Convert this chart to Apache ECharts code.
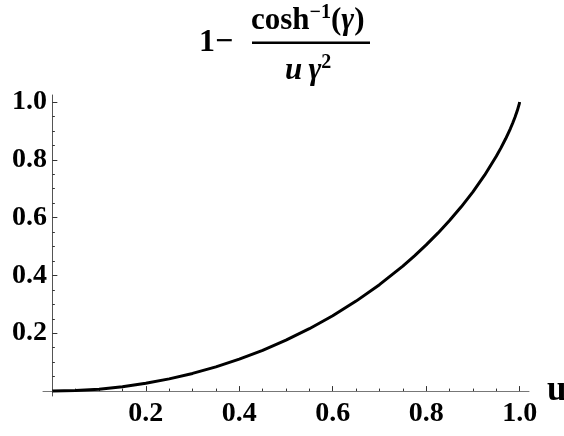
<!DOCTYPE html>
<html>
<head>
<meta charset="utf-8">
<script src="https://cdn.jsdelivr.net/npm/echarts@6/dist/echarts.min.js"></script>
<style>
html,body{margin:0;padding:0;background:#fff;}
#chart{width:564px;height:436px;}
</style>
</head>
<body>
<div id="chart"></div>
<script>
// values
const uValues = [0, 0.05, 0.1, 0.15, 0.2, 0.25, 0.3, 0.35, 0.4, 0.45, 0.5, 0.55, 0.6, 0.65, 0.7, 0.75, 0.775, 0.8, 0.825, 0.85, 0.875, 0.9, 0.925, 0.95, 0.96, 0.97, 0.98, 0.985, 0.99, 0.995, 0.999, 1.0];
const fValues = [0, 0.0017, 0.0067, 0.0151, 0.0269, 0.0422, 0.0611, 0.0838, 0.1103, 0.1410, 0.1760, 0.2158, 0.2606, 0.3112, 0.3681, 0.4324, 0.4678, 0.5056, 0.5462, 0.5899, 0.6373, 0.6892, 0.7467, 0.8120, 0.8411, 0.8725, 0.9072, 0.9262, 0.9468, 0.9700, 0.9924, 1.0];
const majorTicks = [0.2, 0.4, 0.6, 0.8, 1.0];
const minorTicks = [0.05, 0.1, 0.15, 0.25, 0.3, 0.35, 0.45, 0.5, 0.55, 0.65, 0.7, 0.75, 0.85, 0.9, 0.95];
const xName = 'u';

const FONT = '"Liberation Serif", "Times New Roman", serif';
const data = uValues.map((u, i) => [u, fValues[i]]);

const labelStyle = {fontFamily: FONT, fontWeight: 'bold', fontSize: 28, color: '#000'};
const LH = 33;
const main = {fontFamily: FONT, fontWeight: 'bold', fontSize: 31, color: '#000', verticalAlign: 'bottom', lineHeight: LH};
const ital = Object.assign({}, main, {fontStyle: 'italic'});
const sup = {fontFamily: FONT, fontWeight: 'bold', fontSize: 20, color: '#000', verticalAlign: 'top', lineHeight: LH};

const chart = echarts.init(document.getElementById('chart'), null, {renderer: 'canvas'});
chart.setOption({
  animation: false,
  backgroundColor: '#fff',
  title: [
    {text: '1\u2212', left: 199, top: 27, padding: 0,
     textStyle: {fontFamily: FONT, fontWeight: 'bold', fontSize: 32, color: '#000'}},
    {text: '{b|cosh}{s|\u22121}{b|(}{i|\u03b3}{b|)}', left: 251, top: 3, padding: 0,
     textStyle: {rich: {b: main, i: ital, s: sup}}},
    {text: '{i|u\u2009\u03b3}{s|2}', left: 285, top: 53, padding: 0,
     textStyle: {rich: {i: ital, s: sup}}}
  ],
  graphic: [
    {type: 'rect', shape: {x: 252, y: 41.5, width: 118, height: 2.5}, style: {fill: '#000'}, silent: true}
  ],
  grid: {left: 43, right: 35, top: 95, bottom: 40, containLabel: false, outerBoundsMode: 'none'},
  xAxis: [
    {type: 'value', min: -0.02, max: 1.02, position: 'bottom',
     name: xName, nameLocation: 'end', nameGap: 18,
     nameTextStyle: {fontFamily: FONT, fontWeight: 'bold', fontSize: 35, color: '#000', align: 'left', verticalAlign: 'middle', padding: [8, 0, 0, 0]},
     axisLine: {show: true, onZero: true, onZeroAxisIndex: 0, lineStyle: {color: '#777', width: 1}},
     axisTick: {show: true, inside: true, length: 5, customValues: majorTicks, lineStyle: {color: '#333', width: 1}},
     axisLabel: {show: true, customValues: majorTicks, margin: 4, formatter: v => v.toFixed(1), ...labelStyle},
     splitLine: {show: false}},
    {type: 'value', min: -0.02, max: 1.02, position: 'bottom',
     axisLine: {show: false, onZero: true, onZeroAxisIndex: 0},
     axisTick: {show: true, inside: true, length: 2.5, customValues: minorTicks, lineStyle: {color: '#333', width: 1}},
     axisLabel: {show: false}, splitLine: {show: false}}
  ],
  yAxis: [
    {type: 'value', min: -0.017, max: 1.024, position: 'left',
     axisLine: {show: true, onZero: true, onZeroAxisIndex: 0, lineStyle: {color: '#555', width: 1}},
     axisTick: {show: true, inside: true, length: 5, customValues: majorTicks, lineStyle: {color: '#333', width: 1}},
     axisLabel: {show: true, customValues: majorTicks, margin: -4, formatter: v => v.toFixed(1), ...labelStyle},
     splitLine: {show: false}},
    {type: 'value', min: -0.017, max: 1.024, position: 'left',
     axisLine: {show: false, onZero: true, onZeroAxisIndex: 0},
     axisTick: {show: true, inside: true, length: 2.5, customValues: minorTicks, lineStyle: {color: '#333', width: 1}},
     axisLabel: {show: false}, splitLine: {show: false}}
  ],
  series: [
    {type: 'line', xAxisIndex: 0, yAxisIndex: 0, data: data, showSymbol: false, symbol: 'none',
     smooth: false,
     lineStyle: {color: '#000', width: 3, cap: 'butt', join: 'round'}}
  ]
});
</script>
</body>
</html>
